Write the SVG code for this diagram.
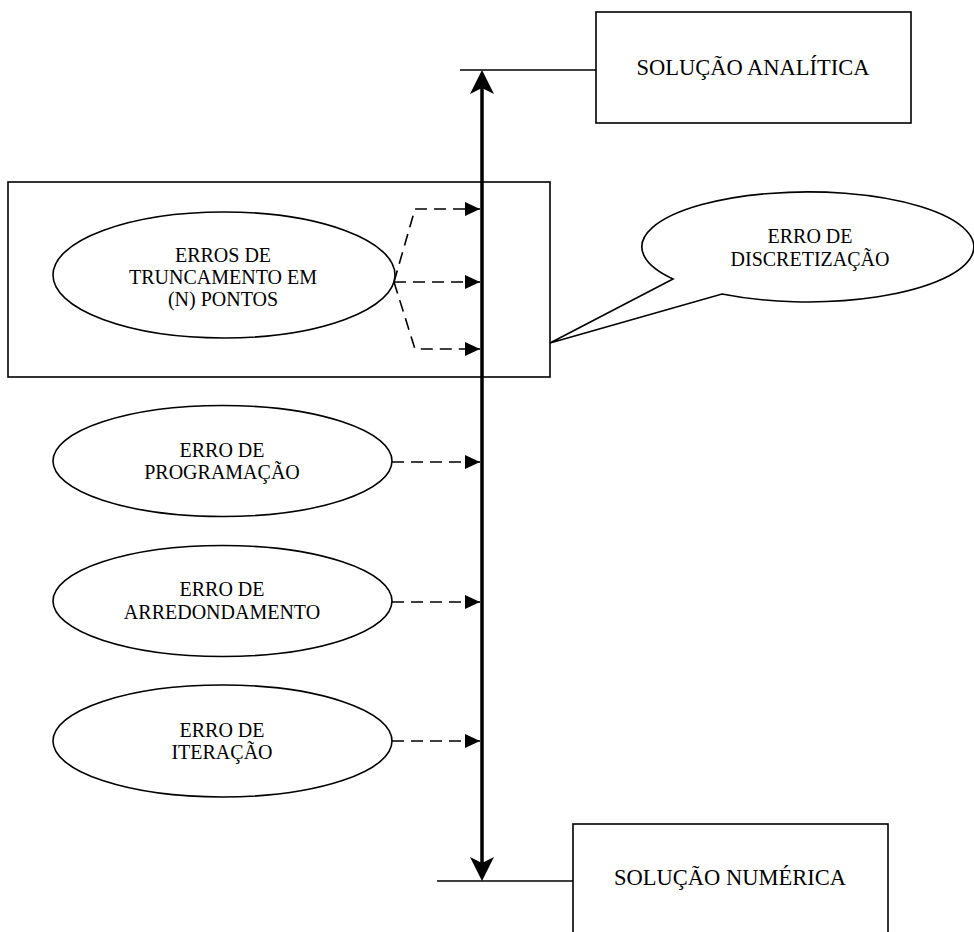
<svg xmlns="http://www.w3.org/2000/svg" width="974" height="932" viewBox="0 0 974 932">
<defs>
<style>
.box{fill:#fff;stroke:#000;stroke-width:1.6}
.ell{fill:#fff;stroke:#000;stroke-width:1.6}
.t{font-family:"Liberation Serif","Times New Roman",serif;fill:#000;text-anchor:middle}
.big{font-size:22.5px}
.sm{font-size:20px}
.dash{fill:none;stroke:#000;stroke-width:1.6;stroke-dasharray:12 7}
.thin{fill:none;stroke:#000;stroke-width:1.6}
.axis{fill:none;stroke:#000;stroke-width:3.5}
</style>
<marker id="ax" markerUnits="userSpaceOnUse" markerWidth="26" markerHeight="26" viewBox="0 0 26 26" refX="19" refY="13" orient="auto-start-reverse">
<path d="M25,13 L1,1 L7,13 L1,25 Z" fill="#000"/>
</marker>
<marker id="ah" markerUnits="userSpaceOnUse" markerWidth="16" markerHeight="16" viewBox="0 0 16 16" refX="15" refY="8" orient="auto">
<path d="M0,1 L15,8 L0,15 Z" fill="#000"/>
</marker>
</defs>
<g id="discretization-box"><rect class="box" x="8" y="182" width="542" height="195"/></g>
<g id="solucao-analitica">
<rect class="box" x="596" y="12" width="315" height="111"/>
<text class="t big" x="753" y="75">SOLUÇÃO ANALÍTICA</text>
</g>
<g id="solucao-numerica">
<rect class="box" x="573" y="824" width="315" height="130"/>
<text class="t big" x="730" y="885">SOLUÇÃO NUMÉRICA</text>
</g>
<g id="erros-truncamento">
<ellipse class="ell" cx="224" cy="275" rx="171" ry="63"/>
<text class="t sm" x="223" y="262">ERROS DE</text>
<text class="t sm" x="223" y="284">TRUNCAMENTO EM</text>
<text class="t sm" x="223" y="306">(N) PONTOS</text>
</g>
<g id="erro-programacao">
<ellipse class="ell" cx="222.5" cy="461" rx="169.5" ry="55.5"/>
<text class="t sm" x="222" y="457">ERRO DE</text>
<text class="t sm" x="222" y="479">PROGRAMAÇÃO</text>
</g>
<g id="erro-arredondamento">
<ellipse class="ell" cx="222.5" cy="601" rx="169.5" ry="55.5"/>
<text class="t sm" x="222" y="596">ERRO DE</text>
<text class="t sm" x="222" y="619">ARREDONDAMENTO</text>
</g>
<g id="erro-iteracao">
<ellipse class="ell" cx="222.5" cy="741" rx="169.5" ry="56"/>
<text class="t sm" x="222" y="737">ERRO DE</text>
<text class="t sm" x="222" y="759">ITERAÇÃO</text>
</g>
<g id="erro-discretizacao">
<path class="ell" d="M673,279 L550,343 L722,294 A166,55 0 1 0 673,279 Z"/>
<text class="t sm" x="810" y="243">ERRO DE</text>
<text class="t sm" x="810" y="266">DISCRETIZAÇÃO</text>
</g>
<g id="connectors">
<line class="thin" x1="460" y1="70" x2="596" y2="70"/>
<line class="thin" x1="437" y1="881" x2="573" y2="881"/>
<line class="axis" x1="482" y1="76" x2="482" y2="875" marker-start="url(#ax)" marker-end="url(#ax)"/>
<polyline class="dash" points="394,282 415,209 480,209" marker-end="url(#ah)"/>
<polyline class="dash" points="394,282 480,282" marker-end="url(#ah)"/>
<polyline class="dash" points="394,282 415,349 480,349" marker-end="url(#ah)"/>
<line class="dash" x1="392" y1="462" x2="480" y2="462" marker-end="url(#ah)"/>
<line class="dash" x1="392" y1="602" x2="480" y2="602" marker-end="url(#ah)"/>
<line class="dash" x1="392" y1="741" x2="480" y2="741" marker-end="url(#ah)"/>
</g>
</svg>
